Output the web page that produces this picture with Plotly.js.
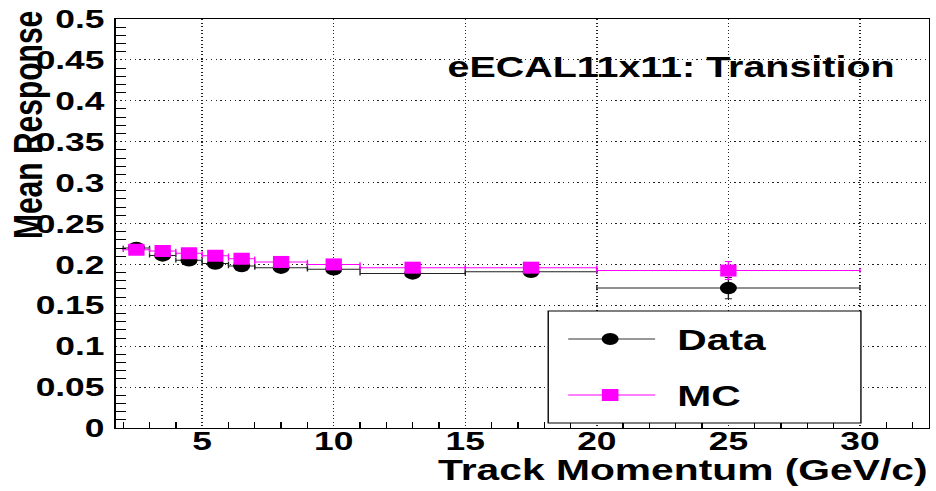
<!DOCTYPE html>
<html>
<head>
<meta charset="utf-8">
<script src="https://cdn.plot.ly/plotly-3.0.1.min.js"></script>
<style>
  html, body { margin: 0; padding: 0; background: #fff; overflow: hidden; }
  #chart { transform-origin: 0 0; }
</style>
</head>
<body>
<div id="chart"></div>
<script>
// Track momentum bin centres (GeV/c) and half-widths of each bin
const momentum = [2.5, 3.5, 4.5, 5.5, 6.5, 8, 10, 13, 17.5, 25];
const binHalfWidth = [0.5, 0.5, 0.5, 0.5, 0.5, 1, 1, 2, 2.5, 5];

// Mean response, test-beam data
const dataResponse = [0.220, 0.211, 0.205, 0.201, 0.198, 0.196, 0.194, 0.189, 0.191, 0.171];
const dataError = [0.003, 0.003, 0.003, 0.003, 0.003, 0.003, 0.003, 0.004, 0.005, 0.013];

// Mean response, simulation
const mcResponse = [0.218, 0.2165, 0.2135, 0.2105, 0.207, 0.203, 0.200, 0.196, 0.196, 0.1925];
const mcError = [0.002, 0.002, 0.002, 0.002, 0.002, 0.002, 0.002, 0.003, 0.003, 0.011];

const legendLabels = ['Data', 'MC'];

// The canvas is laid out narrower and stretched horizontally (wide glyphs)
const S = 1.36;
const FULL_W = 936, FULL_H = 491;
const FRAME = { left: 115, right: 929, top: 19, bottom: 428 };
const W = FULL_W / S;

const el = document.getElementById('chart');
el.style.width = W + 'px';
el.style.height = FULL_H + 'px';
el.style.transform = 'scaleX(' + S + ')';

// frame pixel -> paper fraction
const px = xf => (xf - FRAME.left) / (FRAME.right - FRAME.left);
const py = yf => (FRAME.bottom - yf) / (FRAME.bottom - FRAME.top);

const FONT = 'Liberation Sans, Arial, Helvetica, sans-serif';
const MAGENTA = '#ff00ff';
const GRID = '#222';
const GRID_DASH = '1px,2.5px';

const traces = [
  {
    x: momentum, y: dataResponse, type: 'scatter', mode: 'markers', name: legendLabels[0],
    showlegend: false,
    marker: { symbol: 'circle', size: 12.5, color: '#000' },
    error_x: { type: 'data', array: binHalfWidth, visible: true, color: '#222', thickness: 1, width: 2.2 },
    error_y: { type: 'data', array: dataError, visible: true, color: '#222', thickness: 1, width: 2.6 }
  },
  {
    x: momentum, y: mcResponse, type: 'scatter', mode: 'markers', name: legendLabels[1],
    showlegend: false,
    marker: { symbol: 'square', size: 12, color: MAGENTA },
    error_x: { type: 'data', array: binHalfWidth, visible: true, color: MAGENTA, thickness: 1, width: 2.2 },
    error_y: { type: 'data', array: mcError, visible: true, color: MAGENTA, thickness: 1, width: 2.6 }
  }
];

const tickFont = { family: FONT, size: 26, color: '#000', weight: 'bold' };

const layout = {
  width: W, height: FULL_H,
  margin: { l: FRAME.left / S, r: (FULL_W - FRAME.right) / S, t: FRAME.top, b: FULL_H - FRAME.bottom, pad: 0 },
  paper_bgcolor: '#fff', plot_bgcolor: '#fff',
  showlegend: false,
  xaxis: {
    range: [1.71, 32.62], tick0: 0, dtick: 5, ticks: '',
    showgrid: true, gridcolor: GRID, griddash: GRID_DASH, gridwidth: 1,
    minor: { dtick: 1, ticks: 'inside', ticklen: 6, tickcolor: '#000', tickwidth: 1, showgrid: false },
    showline: true, linecolor: '#000', linewidth: 1, mirror: true, zeroline: false,
    tickfont: tickFont, ticklabelstandoff: -10
  },
  yaxis: {
    range: [0, 0.5], tick0: 0, dtick: 0.05, ticks: '',
    showgrid: true, gridcolor: GRID, griddash: GRID_DASH, gridwidth: 1,
    minor: { dtick: 0.01, ticks: 'inside', ticklen: 8, tickcolor: '#000', tickwidth: 1, showgrid: false },
    showline: true, linecolor: '#000', linewidth: 1, mirror: true, zeroline: false,
    tickfont: tickFont, ticklabelstandoff: 2
  },
  annotations: [
    {
      text: 'Mean Response', xref: 'paper', yref: 'paper', textangle: -90,
      x: px(28), y: py(125),
      xanchor: 'center', yanchor: 'middle', showarrow: false,
      font: { family: FONT, size: 30, color: '#000', weight: 'bold' }
    },
    {
      text: 'Track Momentum (GeV/c)', xref: 'paper', yref: 'paper',
      x: px(931), y: py(470), xanchor: 'right', yanchor: 'middle', showarrow: false,
      font: { family: FONT, size: 30, color: '#000', weight: 'bold' }
    },
    {
      text: 'eECAL11x11: Transition', xref: 'paper', yref: 'paper',
      x: px(444), y: py(67), xanchor: 'left', yanchor: 'middle', showarrow: false,
      font: { family: FONT, size: 29, color: '#000', weight: 'bold' }
    },
    {
      text: legendLabels[0], xref: 'paper', yref: 'paper',
      x: px(674), y: py(339), xanchor: 'left', yanchor: 'middle', showarrow: false,
      font: { family: FONT, size: 30, color: '#000', weight: 'bold' }
    },
    {
      text: legendLabels[1], xref: 'paper', yref: 'paper',
      x: px(674), y: py(395), xanchor: 'left', yanchor: 'middle', showarrow: false,
      font: { family: FONT, size: 30, color: '#000', weight: 'bold' }
    }
  ],
  shapes: [
    // legend box
    { type: 'rect', xref: 'paper', yref: 'paper', x0: px(548), x1: px(861), y0: py(423), y1: py(311),
      line: { color: '#000', width: 1 }, fillcolor: '#fff', layer: 'above' },
    // legend samples
    { type: 'line', xref: 'paper', yref: 'paper', x0: px(568), x1: px(655), y0: py(339), y1: py(339),
      line: { color: '#333', width: 1 }, layer: 'above' },
    { type: 'circle', xref: 'paper', yref: 'paper', xsizemode: 'pixel', ysizemode: 'pixel',
      xanchor: px(610), yanchor: py(339), x0: -6.25, x1: 6.25, y0: -6, y1: 6,
      line: { color: '#000', width: 0 }, fillcolor: '#000', layer: 'above' },
    { type: 'line', xref: 'paper', yref: 'paper', x0: px(568), x1: px(655), y0: py(395), y1: py(395),
      line: { color: MAGENTA, width: 1 }, layer: 'above' },
    { type: 'rect', xref: 'paper', yref: 'paper', xsizemode: 'pixel', ysizemode: 'pixel',
      xanchor: px(610), yanchor: py(395), x0: -6.1, x1: 6.1, y0: -6, y1: 6,
      line: { color: MAGENTA, width: 0 }, fillcolor: MAGENTA, layer: 'above' }
  ]
};

Plotly.newPlot(el, traces, layout, { displayModeBar: false, staticPlot: true });
</script>
</body>
</html>
